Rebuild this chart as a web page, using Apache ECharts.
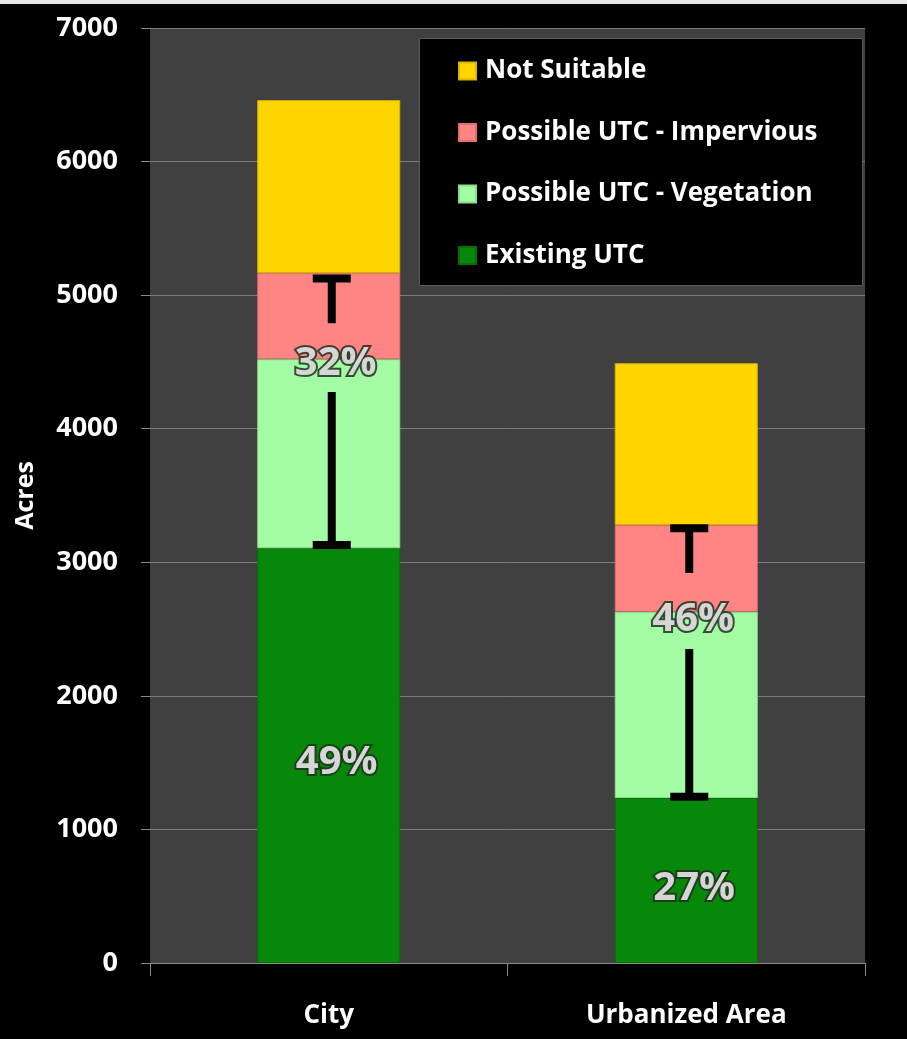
<!DOCTYPE html>
<html>
<head>
<meta charset="utf-8">
<script src="https://cdn.jsdelivr.net/npm/echarts@6/dist/echarts.min.js"></script>
<style>
html,body{margin:0;padding:0;background:#000;}
#c{width:907px;height:1039px;}
</style>
</head>
<body>
<div id="c"></div>
<script>
var categories = ['City', 'Urbanized Area'];
var existingUTC = [3105, 1235];
var possibleVegetation = [1415, 1395];
var possibleImpervious = [645, 650];
var notSuitable = [1295, 1210];
var errLow = [3130, 1245];
var errHigh = [5125, 3255];
var gapLow = [4275, 2350];
var gapHigh = [4790, 2920];
var pctUpper = ['32%', '46%'];
var pctUpperAt = [4490, 2570];
var pctLower = ['49%', '27%'];
var pctLowerAt = [1500, 560];
var yTicks = [0, 1000, 2000, 3000, 4000, 5000, 6000, 7000];

var chart = echarts.init(document.getElementById('c'));
var fontFam = '"Open Sans", "DejaVu Sans", sans-serif';

var pctText = {
  fill: '#d6d6d6',
  stroke: 'rgba(30,50,30,0.85)',
  lineWidth: 4,
  font: 'bold 40px ' + fontFam,
  align: 'center',
  verticalAlign: 'middle',
  shadowBlur: 6,
  shadowColor: 'rgba(0,0,0,0.7)'
};

var errData = categories.map(function (c, i) { return [i, errLow[i], errHigh[i], gapLow[i], gapHigh[i]]; });
var lblData = categories.map(function (c, i) { return [i, pctUpperAt[i], pctLowerAt[i]]; });

chart.setOption({
  backgroundColor: '#000',
  animation: false,
  graphic: [
    { type: 'rect', left: 0, top: 0, shape: { width: 907, height: 4 }, style: { fill: '#e6e6e6' }, z: 0 },
    { type: 'rect', left: 419, top: 38, shape: { width: 443, height: 247 }, style: { fill: '#000', stroke: '#5a5a5a', lineWidth: 1 }, z: 5 }
  ],
  grid: { left: 150, right: 42, top: 28, bottom: 76, show: true, backgroundColor: '#404040', borderWidth: 0, outerBoundsMode: 'none', containLabel: false },
  legend: {
    data: ['Not Suitable', 'Possible UTC - Impervious', 'Possible UTC - Vegetation', 'Existing UTC'],
    orient: 'vertical',
    left: 419,
    top: 38,
    padding: [20, 10, 10, 39],
    itemWidth: 17,
    itemHeight: 17,
    itemGap: 35.5,
    icon: 'rect',
    z: 10,
    textStyle: { color: '#fff', fontSize: 26, fontWeight: 'bold', fontFamily: fontFam, lineHeight: 26, padding: [0, 0, 0, 4] }
  },
  xAxis: {
    type: 'category',
    data: categories,
    axisLine: { lineStyle: { color: '#8a8a8a', width: 1 } },
    axisTick: { show: true, length: 13, lineStyle: { color: '#8a8a8a' } },
    axisLabel: { color: '#fff', fontSize: 26, fontWeight: 'bold', fontFamily: fontFam, margin: 40 }
  },
  yAxis: {
    type: 'value',
    min: 0,
    max: 7000,
    interval: 1000,
    name: 'Acres',
    nameLocation: 'middle',
    nameRotate: 90,
    nameGap: 112,
    nameTextStyle: { color: '#fff', fontSize: 25, fontWeight: 'bold', fontFamily: fontFam },
    axisLine: { show: false },
    axisTick: { show: true, length: 9, lineStyle: { color: '#8a8a8a' } },
    axisLabel: { color: '#fff', fontSize: 27, fontWeight: 'bold', fontFamily: fontFam, margin: 32,
      formatter: function (v) { return yTicks.indexOf(v) >= 0 ? String(v) : ''; } },
    splitLine: { lineStyle: { color: '#7c7c7c', width: 1 } }
  },
  series: [
    { name: 'Existing UTC', type: 'bar', stack: 's', data: existingUTC, barWidth: '40%',
      itemStyle: { color: '#08880a', borderColor: '#067006', borderWidth: 1 } },
    { name: 'Possible UTC - Vegetation', type: 'bar', stack: 's', data: possibleVegetation,
      itemStyle: { color: '#a3fca3', borderColor: '#8adf8a', borderWidth: 1 } },
    { name: 'Possible UTC - Impervious', type: 'bar', stack: 's', data: possibleImpervious,
      itemStyle: { color: '#ff8585', borderColor: '#e07070', borderWidth: 1 } },
    { name: 'Not Suitable', type: 'bar', stack: 's', data: notSuitable,
      itemStyle: { color: '#ffd500', borderColor: '#ddb400', borderWidth: 1 } },
    {
      type: 'custom', name: 'err', data: errData, z: 6,
      renderItem: function (params, api) {
        var i = api.value(0);
        var pLow = api.coord([i, api.value(1)]);
        var pHigh = api.coord([i, api.value(2)]);
        var pGL = api.coord([i, api.value(3)]);
        var pGH = api.coord([i, api.value(4)]);
        var x = pLow[0] + 3;
        var hw = 19;
        var st = { stroke: '#000', lineWidth: 8 };
        return { type: 'group', children: [
          { type: 'line', shape: { x1: x, y1: pHigh[1], x2: x, y2: pGH[1] }, style: st },
          { type: 'line', shape: { x1: x, y1: pGL[1], x2: x, y2: pLow[1] }, style: st },
          { type: 'line', shape: { x1: x - hw, y1: pHigh[1], x2: x + hw, y2: pHigh[1] }, style: st },
          { type: 'line', shape: { x1: x - hw, y1: pLow[1], x2: x + hw, y2: pLow[1] }, style: st }
        ] };
      }
    },
    {
      type: 'custom', name: 'pct', data: lblData, z: 7,
      renderItem: function (params, api) {
        var i = api.value(0);
        var idx = params.dataIndex;
        var pU = api.coord([i, api.value(1)]);
        var pL = api.coord([i, api.value(2)]);
        return { type: 'group', children: [
          { type: 'text', x: pU[0] + 7, y: pU[1], style: Object.assign({ text: pctUpper[idx] }, pctText) },
          { type: 'text', x: pL[0] + 8, y: pL[1], style: Object.assign({ text: pctLower[idx] }, pctText) }
        ] };
      }
    }
  ]
});
</script>
</body>
</html>
